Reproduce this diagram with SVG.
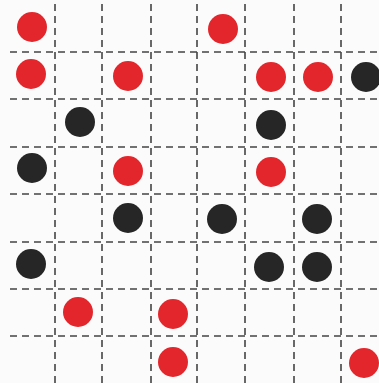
<svg xmlns="http://www.w3.org/2000/svg" width="379" height="383" viewBox="0 0 379 383">
<style>
.g{stroke:#444;stroke-width:1.6;stroke-dasharray:7 5;fill:none}
.r{fill:#e3262b}
.k{fill:#262626}
</style>
<rect width="379" height="383" fill="#fbfbfb"/>
<g id="grid">
<path class="g" d="M55 4V383M102 4V383M151 4V383M197 4V383M245 4V383M294 4V383M341 4V383"/>
<path class="g" d="M10 52H379M10 99H379M10 147H379M10 194H379M10 242H379M10 289H379M10 336H379"/>
</g>
<g id="dots">
<circle class="r" cx="32" cy="27" r="15"/>
<circle class="r" cx="223" cy="29" r="15"/>
<circle class="r" cx="31" cy="74" r="15"/>
<circle class="r" cx="128" cy="76" r="15"/>
<circle class="r" cx="271" cy="77" r="15"/>
<circle class="r" cx="318" cy="77" r="15"/>
<circle class="k" cx="366" cy="77" r="15"/>
<circle class="k" cx="80" cy="122" r="15"/>
<circle class="k" cx="271" cy="125" r="15"/>
<circle class="k" cx="32" cy="168" r="15"/>
<circle class="r" cx="128" cy="171" r="15"/>
<circle class="r" cx="271" cy="172" r="15"/>
<circle class="k" cx="128" cy="218" r="15"/>
<circle class="k" cx="222" cy="219" r="15"/>
<circle class="k" cx="317" cy="219" r="15"/>
<circle class="k" cx="31" cy="264" r="15"/>
<circle class="k" cx="269" cy="267" r="15"/>
<circle class="k" cx="317" cy="267" r="15"/>
<circle class="r" cx="78" cy="312" r="15"/>
<circle class="r" cx="173" cy="314" r="15"/>
<circle class="r" cx="173" cy="362" r="15"/>
<circle class="r" cx="364" cy="363" r="15"/>
</g>
</svg>
